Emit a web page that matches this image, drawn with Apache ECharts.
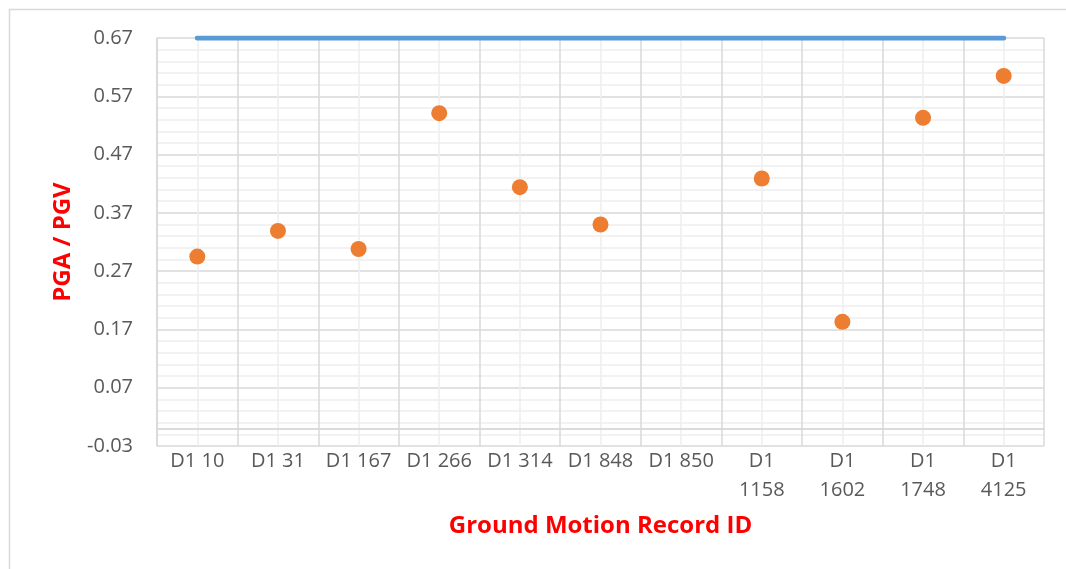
<!DOCTYPE html>
<html>
<head>
<meta charset="utf-8">
<script src="https://cdn.jsdelivr.net/npm/echarts@6/dist/echarts.min.js"></script>
<style>
  html, body { margin: 0; padding: 0; background: #fff; }
  #chart { width: 1066px; height: 569px; }
</style>
</head>
<body>
<div id="chart"></div>
<script>
// Ground motion records on the category axis
const recordIds = ['D1 10', 'D1 31', 'D1 167', 'D1 266', 'D1 314', 'D1 848', 'D1 850',
                   'D1 1158', 'D1 1602', 'D1 1748', 'D1 4125'];
// PGA / PGV ratio per record (D1 850 has no value)
const ratioValues = [0.295, 0.339, 0.308, 0.541, 0.414, 0.350, null,
                     0.429, 0.183, 0.533, 0.605];
// Upper limit drawn as a horizontal line across all records
const limitValues = [0.67, 0.67, 0.67, 0.67, 0.67, 0.67, 0.67, 0.67, 0.67, 0.67, 0.67];
// Value axis range and step
const yMin = -0.03, yMax = 0.67, yStep = 0.1;

const FONT = '"Open Sans", "Liberation Sans", sans-serif';
const chart = echarts.init(document.getElementById('chart'), null, { renderer: 'canvas' });

chart.setOption({
  backgroundColor: '#ffffff',
  animation: false,
  graphic: [{
    type: 'rect',
    shape: { x: 9.5, y: 9.5, width: 1070, height: 580 },
    style: { fill: 'none', stroke: '#d9d9d9', lineWidth: 1.5 },
    silent: true, z: -10
  }],
  grid: { left: 157, right: 22, top: 38, bottom: 123, containLabel: false },
  xAxis: [{
    type: 'category',
    data: recordIds,
    boundaryGap: true,
    axisLine: { show: true, lineStyle: { color: '#d9d9d9', width: 1.5 } },
    axisTick: { show: false },
    splitLine: { show: true, lineStyle: { color: '#d9d9d9', width: 1.5 } },
    axisLabel: {
      color: '#595959', fontFamily: FONT, fontSize: 20, margin: 1, lineHeight: 29,
      interval: 0,
      formatter: v => v.length > 6 ? v.replace(' ', '\n') : v
    },
    name: 'Ground Motion Record ID',
    nameLocation: 'middle',
    nameGap: 68,
    nameTextStyle: { color: '#ff0000', fontFamily: FONT, fontSize: 24, fontWeight: 'bold' }
  }, {
    // helper axis for the light lines through each category centre
    type: 'value', min: 0, max: 11, interval: 1, position: 'bottom',
    axisLine: { show: false }, axisTick: { show: false }, axisLabel: { show: false },
    splitLine: { show: false },
    minorTick: { show: false, splitNumber: 2 },
    minorSplitLine: { show: true, lineStyle: { color: '#eeeeee', width: 1.5 } }
  }],
  yAxis: {
    type: 'value',
    min: yMin, max: yMax, interval: yStep,
    axisLine: { show: true, lineStyle: { color: '#d9d9d9', width: 1.5 } },
    axisTick: { show: false },
    axisLabel: {
      color: '#595959', fontFamily: FONT, fontSize: 20, margin: 24,
      formatter: v => v.toFixed(2)
    },
    splitLine: { show: true, lineStyle: { color: '#d9d9d9', width: 1.5 } },
    minorTick: { show: false, splitNumber: 5 },
    minorSplitLine: { show: true, lineStyle: { color: '#eeeeee', width: 1.5 } },
    name: 'PGA / PGV',
    nameLocation: 'middle',
    nameRotate: 90,
    nameGap: 82,
    nameTextStyle: { color: '#ff0000', fontFamily: FONT, fontSize: 24, fontWeight: 'bold' }
  },
  series: [{
    type: 'line',
    data: limitValues,
    showSymbol: false,
    symbol: 'none',
    lineStyle: { color: '#5b9bd5', width: 5, cap: 'round' },
    z: 3
  }, {
    type: 'scatter',
    data: ratioValues,
    symbolSize: 16,
    itemStyle: { color: '#ed7d31', opacity: 1 },
    z: 4,
    markLine: {
      silent: true, symbol: 'none', label: { show: false },
      lineStyle: { color: '#d9d9d9', width: 1.5, type: 'solid' },
      data: [{ yAxis: 0 }]
    }
  }]
});
</script>
</body>
</html>
